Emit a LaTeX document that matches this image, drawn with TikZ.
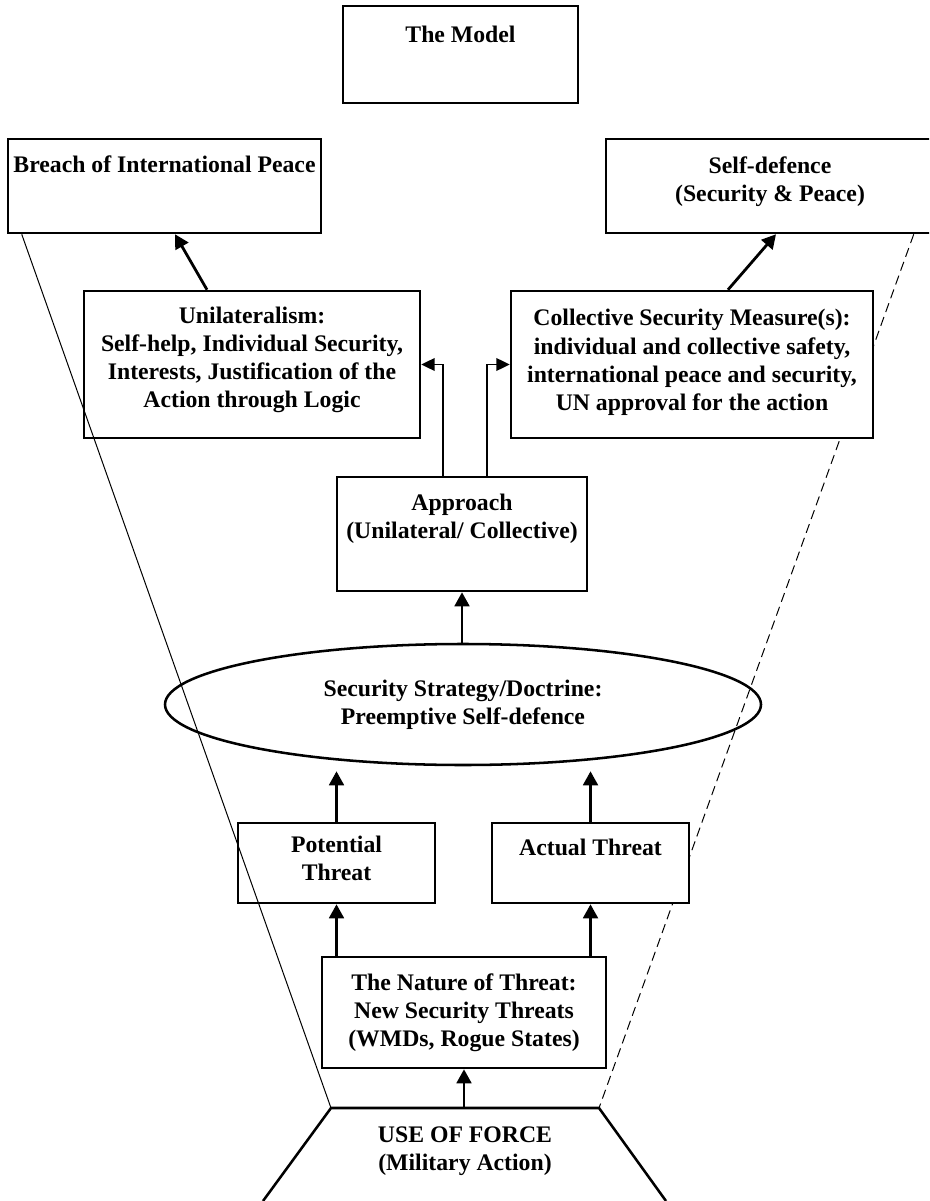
\documentclass[tikz,border=0pt]{standalone}
\usepackage{fontspec}
\setmainfont{Liberation Serif}
\usetikzlibrary{arrows.meta, positioning, calc, shapes.geometric}

\begin{document}
\begin{tikzpicture}[
  x=0.75pt, y=-0.75pt,
  box/.style={rectangle, draw=black, fill=white, line width=1.9pt, inner sep=0pt},
  txt/.style={font=\fontsize{17.8pt}{21.2pt}\selectfont\bfseries, align=center, inner sep=0pt},
  arr/.style={-{Triangle[length=10.5pt, width=11pt]}, line width=2.1pt},
  elbow/.style={-{Triangle[length=10pt, width=9.5pt]}, line width=1pt},
  funnel/.style={line width=0.75pt},
]
\clip (0,0) rectangle (929,1201);

%% Use of force (open funnel foot)
\coordinate (ftl) at (331,1108);
\coordinate (ftr) at (599,1108);
\coordinate (fbl) at (263,1201);
\coordinate (fbr) at (666,1201);
\coordinate (forcetop) at ($(ftl)!0.5!(ftr)$);

%% Boxes
\node[box, minimum width=176.25pt, minimum height=72.75pt] (model)   at (460.5,54.5) {};
\node[box, minimum width=234.75pt, minimum height=70.5pt]  (breach)  at (164.5,186)  {};
\node[box, minimum width=250.5pt,  minimum height=70.5pt]  (selfdef) at (773,186)    {};

% dashed side sits behind the boxes
\draw[funnel, dash pattern=on 7pt off 4pt] ($(selfdef.south west)+(309,0)$) -- (ftr);

\node[box, minimum width=252pt,   minimum height=110.25pt] (unil)   at (252,364.5) {};
\node[box, minimum width=271.5pt, minimum height=110.25pt] (coll)   at (692,364.5) {};
\node[box, minimum width=187.5pt, minimum height=85.5pt]   (appr)   at (462,534)   {};
\node[ellipse, draw=black, line width=1.9pt, minimum width=447pt, minimum height=90.75pt,
      inner sep=0pt, txt] (strat) at (463,704.5)
      {Security Strategy/Doctrine:\\Preemptive Self-defence};
\node[box, minimum width=147.75pt, minimum height=60pt]    (pot)    at (336.5,863) {};
\node[box, minimum width=147.75pt, minimum height=60pt]    (act)    at (590.5,863) {};
\node[box, minimum width=213pt,    minimum height=83.25pt] (nature) at (464,1012.5) {};

\draw[line width=1.9pt] (fbl) -- (ftl) -- (ftr) -- (fbr);

%% Box texts
\node[txt, below=15.5pt of model.north]   (model-t)   {The Model};
\node[txt, below=13.3pt of breach.north]  (breach-t)  {Breach of International Peace};
\node[txt, below=14pt of selfdef.north, xshift=-2.25pt] (selfdef-t) {Self-defence\\(Security \& Peace)};
\node[txt, below=12.5pt of unil.north]    (unil-t)
  {Unilateralism:\\Self-help, Individual Security,\\Interests, Justification of the\\Action through Logic};
\node[txt, below=14.5pt of coll.north]    (coll-t)
  {Collective Security Measure(s):\\individual and collective safety,\\international peace and security,\\UN approval for the action};
\node[txt, below=13.3pt of appr.north]    (appr-t)    {Approach\\(Unilateral/ Collective)};
\node[txt, below=10.3pt of pot.north]     (pot-t)     {Potential\\Threat};
\node[txt, below=12.5pt of act.north]     (act-t)     {Actual Threat};
\node[txt, below=13.3pt of nature.north]  (nature-t)
  {The Nature of Threat:\\New Security Threats\\(WMDs, Rogue States)};
\node[txt, below=14pt of forcetop]        (force-t)   {USE OF FORCE\\(Military Action)};

%% Arrows
\draw[arr] (nature.south |- forcetop) -- (nature.south);
\draw[arr] (pot.south |- nature.north) -- (pot.south);
\draw[arr] (act.south |- nature.north) -- (act.south);
\draw[arr, shorten >=3.75pt] (pot.north) -- (pot.north |- strat.south);
\draw[arr, shorten >=3.75pt] (act.north) -- (act.north |- strat.south);
\draw[arr] (appr.south |- strat.north) -- (appr.south);
\draw[elbow] ($(appr.north)+(-19,0)$) |- (unil.east);
\draw[elbow] ($(appr.north)+(25,0)$) |- (coll.west);
\draw[arr] ($(unil.north)+(-45,0)$) -- ($(breach.south)+(10.5,0)$);
\draw[arr] ($(coll.north)+(36,0)$) -- ($(selfdef.south)+(3,0)$);

% solid side runs over the boxes
\draw[funnel] ($(breach.south west)+(15,0)$) -- (ftl);

\end{tikzpicture}
\end{document}
